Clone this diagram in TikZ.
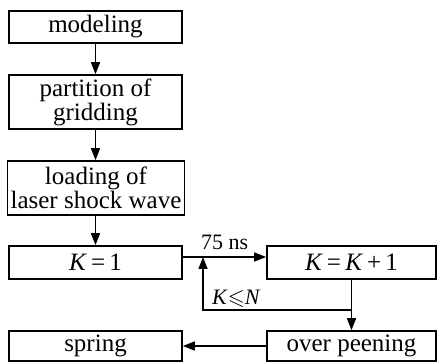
\documentclass[tikz,border=0pt]{standalone}
\usepackage{amssymb}
\usepackage{fontspec}
\setmainfont{Liberation Serif}
\usetikzlibrary{arrows.meta}
\begin{document}
\begin{tikzpicture}[x=1pt,y=1pt,
  box/.style={draw, line width=1.6pt, inner sep=0pt, align=center,
    font=\fontsize{25}{24}\selectfont},
  flow/.style={line width=1.4pt, -{Triangle[length=12pt,width=9pt]}},
  lbl/.style={font=\fontsize{22}{22}\selectfont, inner sep=0pt}]
\useasboundingbox (0,0) rectangle (437,362);
% left column
\node[box, minimum width=173pt, minimum height=32pt] (model) at (95.5,335) {modeling};
\node[box, minimum width=173pt, minimum height=54pt] (part) at (95.5,260) {partition of\\gridding};
\node[box, minimum width=177pt, minimum height=54pt] (load) at (96,174) {loading of\\laser shock wave};
\node[box, minimum width=173pt, minimum height=33pt] (k1) at (95.5,99.5) {\textit{K}\,=\,1};
\node[box, minimum width=173pt, minimum height=30pt] (spring) at (95.5,16) {spring};
% right column
\node[box, minimum width=169pt, minimum height=33pt] (kk) at (351.5,99.5) {\textit{K}\,=\,\textit{K}\,+\,1};
\node[box, minimum width=169pt, minimum height=30pt] (peen) at (351.5,16) {over peening};
% connectors
\draw[flow] (model.south) -- (part.north);
\draw[flow] (part.south) -- (load.north -| part.south);
\draw[flow] (load.south -| k1.north) -- (k1.north);
\coordinate (m) at (203,105);
\draw[flow] (k1.east |- m) -- (kk.west |- m);
\node[lbl, anchor=base west] (ns) at (201,112) {75 ns};
\draw[flow] (kk.south) -- (peen.north);
\coordinate (loop) at (203,52);
\draw[flow] (kk.south |- loop) -- (loop) -- (m);
\node[lbl, anchor=base west] (cond) at (212,57) {\textit{K}$\leqslant$\textit{N}};
\draw[flow] (peen.west |- spring) -- (spring.east);
\end{tikzpicture}
\end{document}
